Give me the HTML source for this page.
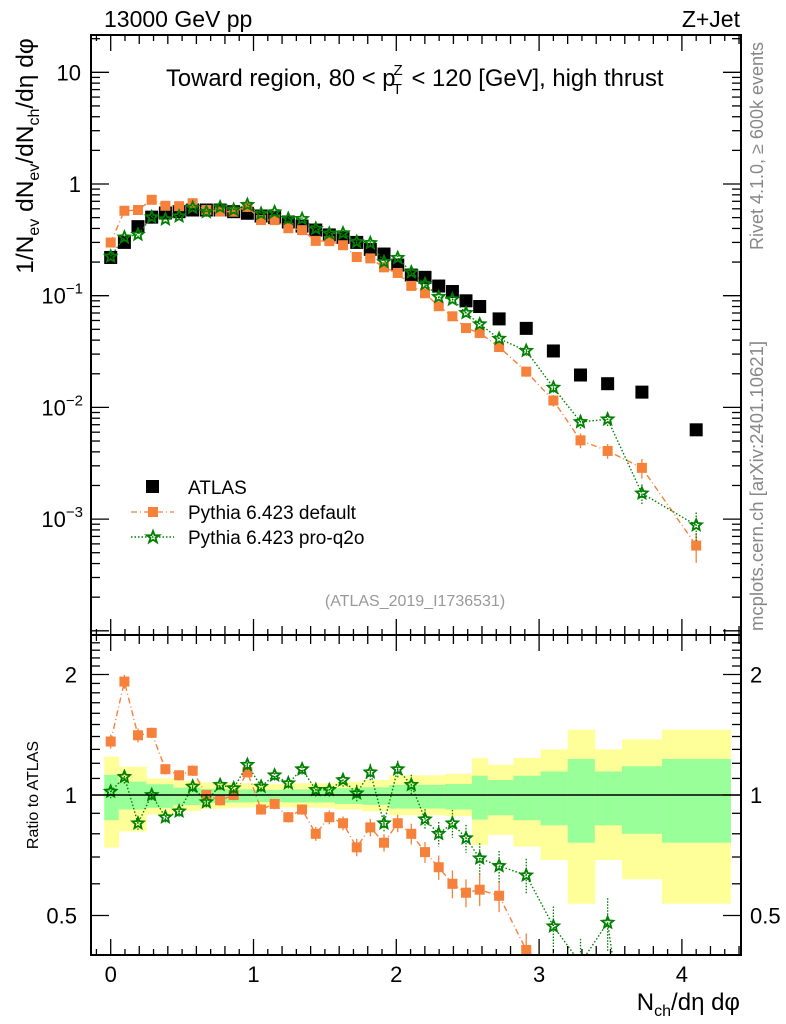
<!DOCTYPE html>
<html><head><meta charset="utf-8"><style>
html,body{margin:0;padding:0;background:#fff;overflow:hidden;width:786px;height:1024px}
svg{display:block;position:absolute;left:0;top:0;font-family:"Liberation Sans",sans-serif}
</style></head><body>
<svg id="chart" width="786" height="1024" viewBox="0 0 786 1024" xmlns="http://www.w3.org/2000/svg">
<rect x="0" y="0" width="786" height="1024" fill="#fff"/>
<g id="bands"></g>
<g id="ticks"></g>
<g id="series"></g>
<rect x="91" y="35" width="650" height="600" fill="none" stroke="#000" stroke-width="2"/>
<rect x="91" y="635" width="650" height="320" fill="none" stroke="#000" stroke-width="2"/>
<line x1="91" y1="795" x2="741" y2="795" stroke="#000" stroke-width="1.5"/>
<text x="104" y="27" font-size="23">13000 GeV pp</text>
<text x="740" y="27" font-size="23" text-anchor="end">Z+Jet</text>
<text x="166" y="86" font-size="23.8">Toward region, 80 &lt; p<tspan font-size="15" dy="-11" dx="-2">Z</tspan><tspan font-size="15" dy="19" dx="-10">T</tspan><tspan dy="-8" dx="3"> &lt; 120 [GeV], high thrust</tspan></text>
<text x="415" y="606" font-size="16" fill="#999" text-anchor="middle">(ATLAS_2019_I1736531)</text>
<text transform="translate(763,250) rotate(-90)" font-size="18" fill="#888">Rivet 4.1.0, ≥ 600k events</text>
<text transform="translate(763,631) rotate(-90)" font-size="18.5" fill="#888">mcplots.cern.ch [arXiv:2401.10621]</text>
<text transform="translate(33,156) rotate(-90)" font-size="24.5" text-anchor="middle">1/N<tspan font-size="16" dy="6">ev</tspan><tspan dy="-6"> dN</tspan><tspan font-size="16" dy="6">ev</tspan><tspan dy="-6">/dN</tspan><tspan font-size="16" dy="6">ch</tspan><tspan dy="-6">/dη dφ</tspan></text>
<text transform="translate(38,795) rotate(-90)" font-size="16" text-anchor="middle">Ratio to ATLAS</text>
<text x="740" y="1010" font-size="24" text-anchor="end">N<tspan font-size="16" dy="6">ch</tspan><tspan dy="-6">/dη dφ</tspan></text>
<g>
<rect x="146" y="480" width="13" height="13" fill="#000"/>
<text x="188" y="494" font-size="19">ATLAS</text>
<line x1="131" y1="512" x2="174" y2="512" stroke="#f5813a" stroke-width="1.3" stroke-dasharray="6,3,1,3"/>
<rect x="148" y="507" width="10" height="10" fill="#f5813a"/>
<text x="188" y="519" font-size="19">Pythia 6.423 default</text>
<line x1="131" y1="537" x2="174" y2="537" stroke="#008000" stroke-width="1.5" stroke-dasharray="1.5,2"/>
<path d="M153,531 L154.6,535.3 L159.2,535.3 L155.5,538 L156.9,542.3 L153,539.7 L149.1,542.3 L150.5,538 L146.8,535.3 L151.4,535.3 Z" fill="none" stroke="#008000" stroke-width="1.8"/>
<text x="188" y="544" font-size="19">Pythia 6.423 pro-q2o</text>
</g>
</svg>
<script>
const xs = [0,0.096,0.191,0.287,0.383,0.479,0.574,0.670,0.766,0.861,0.957,1.053,1.148,1.244,1.340,1.436,1.531,1.627,1.723,1.818,1.914,2.010,2.105,2.201,2.297,2.393,2.488,2.584,2.72,2.91,3.10,3.29,3.48,3.72,4.10];
const atlas = [0.22,0.30,0.415,0.505,0.55,0.565,0.585,0.585,0.585,0.565,0.547,0.517,0.50,0.457,0.42,0.387,0.35,0.333,0.30,0.26,0.236,0.188,0.153,0.146,0.122,0.109,0.09,0.08,0.062,0.051,0.032,0.0195,0.0163,0.0137,0.0063];
const ratioDefault = [1.36,1.92,1.41,1.43,1.16,1.12,1.15,1.0,0.97,1.0,1.14,0.92,0.95,0.88,0.92,0.80,0.88,0.85,0.74,0.83,0.76,0.85,0.80,0.72,0.66,0.60,0.57,0.58,0.56,0.41,0.36,0.26,0.25,0.21,0.092];
const ratioProq2o = [1.02,1.11,0.85,1.0,0.88,0.91,1.05,0.96,1.06,1.04,1.19,1.05,1.12,1.07,1.16,1.03,1.03,1.09,1.01,1.14,0.85,1.16,1.06,0.87,0.80,0.85,0.78,0.695,0.665,0.63,0.47,0.38,0.48,0.124,0.14];
const relErr = [0.04,0.04,0.04,0.03,0.03,0.03,0.03,0.03,0.03,0.03,0.03,0.03,0.03,0.03,0.03,0.04,0.04,0.04,0.05,0.05,0.05,0.05,0.06,0.06,0.07,0.08,0.08,0.09,0.09,0.1,0.12,0.15,0.15,0.2,0.3];
const binEdges = [-0.045,0.056,0.25,0.44,0.63,0.82,1.0,1.2,1.38,1.57,1.76,1.95,2.15,2.34,2.53,2.64,2.82,3.01,3.2,3.39,3.58,3.86,4.34];
const yellowHi = [1.247,1.177,1.10,1.085,1.075,1.07,1.065,1.07,1.07,1.08,1.09,1.12,1.12,1.13,1.237,1.19,1.237,1.30,1.456,1.30,1.377,1.456];
const yellowLo = [0.739,0.811,0.894,0.911,0.925,0.93,0.935,0.93,0.93,0.92,0.91,0.89,0.89,0.885,0.75,0.795,0.743,0.688,0.535,0.688,0.616,0.535];
const greenHi = [1.123,1.08,1.064,1.043,1.035,1.033,1.03,1.033,1.033,1.04,1.045,1.06,1.06,1.065,1.117,1.09,1.117,1.145,1.23,1.145,1.18,1.23];
const greenLo = [0.865,0.92,0.929,0.943,0.955,0.958,0.96,0.958,0.958,0.95,0.945,0.925,0.925,0.92,0.868,0.89,0.865,0.84,0.76,0.84,0.80,0.76];

const NS='http://www.w3.org/2000/svg';
const X = v => 110.7 + v*142.8;
const Ym = v => 184 - 111.7*Math.log10(v);
const Yr = v => 795 - 120.5*Math.log2(v);
function mk(tag, attrs, parent){const e=document.createElementNS(NS,tag);for(const k in attrs)e.setAttribute(k,attrs[k]);parent.appendChild(e);return e;}
const bands=document.getElementById('bands'), ticks=document.getElementById('ticks'), series=document.getElementById('series');

const defs=mk('defs',{},document.getElementById('chart'));
const cm=mk('clipPath',{id:'cm'},defs); mk('rect',{x:91,y:35,width:650,height:600},cm);
const cr=mk('clipPath',{id:'cr'},defs); mk('rect',{x:91,y:635,width:650,height:320},cr);
bands.setAttribute('clip-path','url(#cr)');

for(let i=0;i<yellowHi.length;i++){
  const x1=X(binEdges[i]), w=X(binEdges[i+1])-x1;
  const yb=mk('rect',{x:x1,y:Yr(yellowHi[i]),width:w+0.5,height:Yr(yellowLo[i])-Yr(yellowHi[i]),fill:'#ffff99'},bands);
  
  
  const gb=mk('rect',{x:x1,y:Yr(greenHi[i]),width:w+0.5,height:Yr(greenLo[i])-Yr(greenHi[i]),fill:'#99ff99'},bands);
  
  
}

for(let k=-1;k<=44;k++){
  const v=k/10, x=X(v); if(x<92||x>740) continue;
  const len = k%10===0?16:(k%2===0?9:6);
  mk('line',{x1:x,y1:35,x2:x,y2:35+len,stroke:'#000','stroke-width':1.3},ticks);
  mk('line',{x1:x,y1:635,x2:x,y2:635+len,stroke:'#000','stroke-width':1.3},ticks);
  mk('line',{x1:x,y1:635,x2:x,y2:635-len,stroke:'#000','stroke-width':1.3},ticks);
  mk('line',{x1:x,y1:955,x2:x,y2:955-len,stroke:'#000','stroke-width':1.3},ticks);
  if(k%10===0){const t=mk('text',{x:x,y:982,'font-size':22,'text-anchor':'middle'},ticks);t.textContent=String(v);
    
    }
}
for(let d=-5;d<=1;d++){
  for(let m=1;m<=9;m++){
    const v=m*Math.pow(10,d), y=Ym(v); if(y<36||y>634) continue;
    const len=m===1?18:9;
    mk('line',{x1:91,y1:y,x2:91+len,y2:y,stroke:'#000','stroke-width':1.3},ticks);
    mk('line',{x1:741,y1:y,x2:741-len,y2:y,stroke:'#000','stroke-width':1.3},ticks);
  }
}
const majLabels=[['10',1],['1',0]];
majLabels.forEach(([s,d])=>{const t=mk('text',{x:81,y:Ym(Math.pow(10,d))+8,'font-size':22,'text-anchor':'end'},ticks);t.textContent=s;
  
  });
[-1,-2,-3].forEach(d=>{const t=mk('text',{x:83,y:Ym(Math.pow(10,d))+8,'font-size':22,'text-anchor':'end'},ticks);
  t.innerHTML='10<tspan font-size="15" dy="-10">−'+(-d)+'</tspan>';
  
  });
for(let k=4;k<=25;k++){
  const v=k/10,y=Yr(v); if(y<636||y>954) continue;
  const maj=(k===5||k===10||k===20); const len=maj?18:9;
  mk('line',{x1:91,y1:y,x2:91+len,y2:y,stroke:'#000','stroke-width':1.3},ticks);
  mk('line',{x1:741,y1:y,x2:741-len,y2:y,stroke:'#000','stroke-width':1.3},ticks);
  if(maj){const s=String(v);
    const t1=mk('text',{x:77,y:y+8,'font-size':22,'text-anchor':'end'},ticks);t1.textContent=s;
    
    
    const t2=mk('text',{x:750,y:y+8,'font-size':22},ticks);t2.textContent=s;
    
    }
}

function star(cx,cy,r,parent){
  let p='';for(let i=0;i<10;i++){const a=-Math.PI/2+i*Math.PI/5, rr=i%2?r*0.45:r;p+=(i?'L':'M')+(cx+rr*Math.cos(a)).toFixed(1)+','+(cy+rr*Math.sin(a)).toFixed(1);}
  return mk('path',{d:p+'Z',fill:'none',stroke:'#008000','stroke-width':1.8},parent);
}
function drawSeries(vals, Yf, clip, color, dash, kind, name){
  const g=mk('g',{'clip-path':'url(#'+clip+')'},series);
  
  
  const pts=vals.map((v,i)=>X(xs[i]).toFixed(1)+','+Yf(v).toFixed(1)).join(' ');
  mk('polyline',{points:pts,fill:'none',stroke:color,'stroke-width':1.4,'stroke-dasharray':dash},g);
  vals.forEach((v,i)=>{
    const x=X(xs[i]), y=Yf(v), e=relErr[i];
    const y1=Yf(v*(1+e)), y2=Yf(v*(1-e));
    mk('line',{x1:x,y1:y1,x2:x,y2:y2,stroke:color,'stroke-width':1.3,'stroke-dasharray':kind==='star'?'1.5,1.5':'none'},g);
    let m;
    if(kind==='sq') m=mk('rect',{x:x-5,y:y-5,width:10,height:10,fill:color},g);
    else m=star(x,y,6,g);
    
    
  });
}
const mainDefault=ratioDefault.map((r,i)=>r*atlas[i]);
const mainProq2o=ratioProq2o.map((r,i)=>r*atlas[i]);
const ga=mk('g',{'clip-path':'url(#cm)'},series);


atlas.forEach((v,i)=>{const r=mk('rect',{x:X(xs[i])-6.5,y:Ym(v)-6.5,width:13,height:13,fill:'#000'},ga);
  
  });
drawSeries(mainDefault,Ym,'cm','#f5813a','6,3,1,3','sq','default-main');
drawSeries(mainProq2o,Ym,'cm','#008000','1.5,2','star','proq2o-main');
drawSeries(ratioDefault,Yr,'cr','#f5813a','6,3,1,3','sq','default-ratio');
drawSeries(ratioProq2o,Yr,'cr','#008000','1.5,2','star','proq2o-ratio');
</script>
</body></html>
